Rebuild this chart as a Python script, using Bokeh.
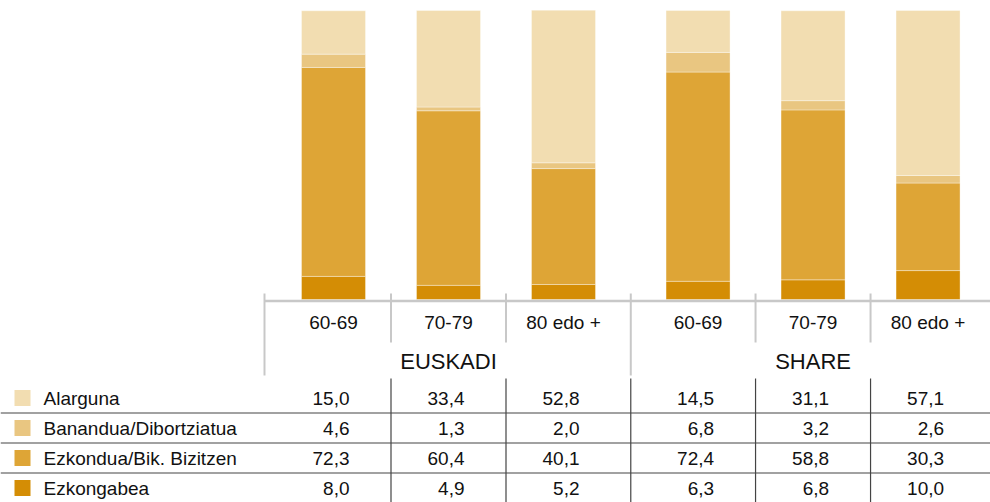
from bokeh.plotting import figure
from bokeh.models import Range1d, ColumnDataSource
from bokeh.core.properties import value
from bokeh.embed import file_html
from bokeh.resources import INLINE

# ---------------- data ----------------
groups = ["EUSKADI", "SHARE"]
ages = ["60-69", "70-79", "80 edo +"]
statuses = ["Alarguna", "Banandua/Dibortziatua", "Ezkondua/Bik. Bizitzen", "Ezkongabea"]
alarguna = [15.0, 33.4, 52.8, 14.5, 31.1, 57.1]
banandua = [4.6, 1.3, 2.0, 6.8, 3.2, 2.6]
ezkondua = [72.3, 60.4, 40.1, 72.4, 58.8, 30.3]
ezkongabea = [8.0, 4.9, 5.2, 6.3, 6.8, 10.0]

# ---------------- styles / layout ----------------
colors = ["#F2DDB1", "#E9C681", "#DEA536", "#D48D05"]  # same order as statuses
FONT = value("Liberation Sans")
TXT = "#111111"
W, H = 990, 502
U = 115.0       # px per category unit
X0 = 333.0      # px of first bar centre
GAP = 0.17      # extra gap between groups (category units)
PPU = 2.89      # px per percent
Y0 = 299.0      # px of 0% (from top)
BAR_W = 64.0 / U


def xd(px):
    return (px - X0) / U


def yd(py):
    return (Y0 - py) / PPU


p = figure(width=W, height=H, x_range=Range1d(xd(0), xd(W)), y_range=Range1d(yd(H), yd(0)),
           output_backend="svg", toolbar_location=None, min_border=0,
           x_axis_type=None, y_axis_type=None, outline_line_color=None)
p.grid.visible = False

# x positions of the bars
xs = []
for g, grp in enumerate(groups):
    for a, age in enumerate(ages):
        xs.append(g * len(ages) + a + g * GAP)

series = {"Alarguna": alarguna, "Banandua/Dibortziatua": banandua,
          "Ezkondua/Bik. Bizitzen": ezkondua, "Ezkongabea": ezkongabea}
src = ColumnDataSource(dict(x=xs, **{s: series[s] for s in statuses}))
stack_order = list(reversed(statuses))
stack_colors = list(reversed(colors))
p.vbar_stack(stack_order, x="x", width=BAR_W, source=src, color=stack_colors,
             line_color="white", line_alpha=0.35, line_width=1)

# axis line under bars
GRAY = "#C8C8C8"
left_edge = xs[0] - 0.6
p.segment(x0=[left_edge], y0=[yd(300.5)], x1=[xd(W)], y1=[yd(300.5)], line_color=GRAY, line_width=2.7)

# separators
mids = [(xs[i] + xs[i + 1]) / 2 for i in range(len(xs) - 1)]
boundary = mids[len(ages) - 1]
sep_x = [left_edge] + mids
for sx in sep_x:
    long = (sx == left_edge) or (sx == boundary)
    p.segment(x0=[sx], y0=[yd(293)], x1=[sx], y1=[yd(375 if long else 342)],
              line_color=GRAY, line_width=2)

# category labels
age_labels = [age for grp in groups for age in ages]
p.text(x=xs, y=[yd(321.5)] * len(xs), text=age_labels, text_font=FONT, text_font_size="19px",
       text_align="center", text_baseline="middle", text_color=TXT)
# group labels
gx = [sum(xs[g * len(ages):(g + 1) * len(ages)]) / len(ages) for g in range(len(groups))]
p.text(x=gx, y=[yd(361)] * len(gx), text=groups, text_font=FONT, text_font_size="22px",
       text_align="center", text_baseline="middle", text_color=TXT)

# ---------------- table ----------------
ROW0, ROWH = 397.5, 30.0
row_py = [ROW0 + k * ROWH for k in range(len(statuses))]
# vertical table lines
for sx in mids:
    p.segment(x0=[sx], y0=[yd(378)], x1=[sx], y1=[yd(H)], line_color="#444444", line_width=1.2)
# horizontal row lines
for k in range(len(statuses) - 1):
    yy = yd((row_py[k] + row_py[k + 1]) / 2)
    p.segment(x0=[xd(0)], y0=[yy], x1=[xd(W)], y1=[yy], line_color="#444444", line_width=1.2)

# legend squares + labels
p.scatter(x=[xd(22)] * len(statuses), y=[yd(r) for r in row_py], marker="square", size=16,
          fill_color=colors, line_color=None)
p.text(x=[xd(43)] * len(statuses), y=[yd(r) for r in row_py], text=statuses, text_font=FONT,
       text_font_size="19px", text_align="left", text_baseline="middle", text_color=TXT)

# values
NUM_OFF = 16.0 / U
tx, ty, tt = [], [], []
for k, s in enumerate(statuses):
    for i, v in enumerate(series[s]):
        tx.append(xs[i] + NUM_OFF)
        ty.append(yd(row_py[k]))
        tt.append(f"{v:.1f}".replace(".", ","))
p.text(x=tx, y=ty, text=tt, text_font=FONT, text_font_size="19px",
       text_align="right", text_baseline="middle", text_color=TXT)

open("out.html", "w").write(file_html(p, INLINE))
